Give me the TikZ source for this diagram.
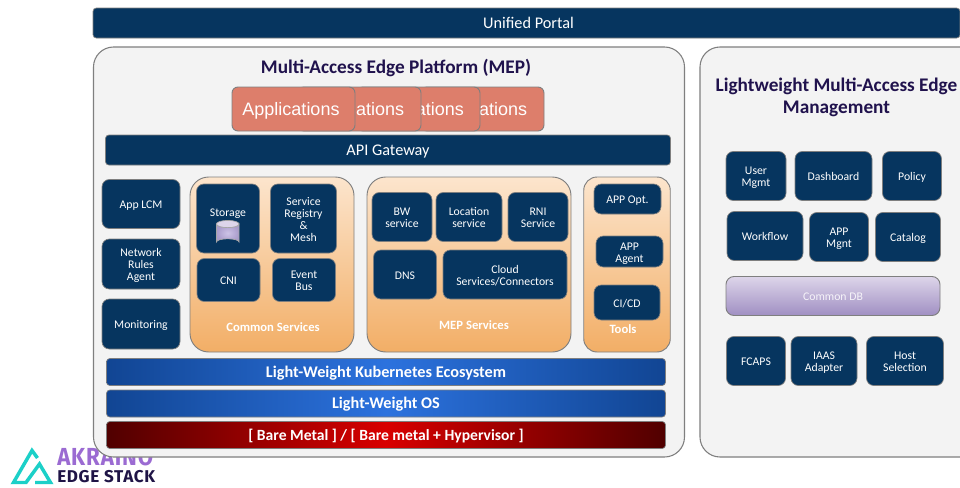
\documentclass[tikz,border=0pt]{standalone}
\usepackage{fontspec}
\setmainfont{Carlito}
\newfontfamily\appfont{Liberation Sans}
\newfontfamily\logofont[LetterSpace=4,BoldFont={Fira Sans Bold}]{Fira Sans Bold}
\definecolor{navy}{HTML}{06355F}
\definecolor{edgegrey}{HTML}{7F7F7F}
\definecolor{panelfill}{HTML}{F3F3F3}
\definecolor{titleink}{HTML}{20124D}
\definecolor{salmon}{HTML}{DD7E6B}
\definecolor{orangetop}{HTML}{FCE5CD}
\definecolor{orangebot}{HTML}{F2AE66}
\definecolor{lilactop}{HTML}{DDD5EA}
\definecolor{lilacbot}{HTML}{A08FC2}
\definecolor{drumin}{HTML}{CDC3E6}
\definecolor{drumout}{HTML}{A99BCB}
\definecolor{blueedge}{HTML}{114593}
\definecolor{bluemid}{HTML}{2C72DE}
\definecolor{rededge}{HTML}{500000}
\definecolor{redmid}{HTML}{D80000}
\definecolor{logoteal}{HTML}{1CD0C8}
\definecolor{logopurple}{HTML}{9B6BD2}
\definecolor{logoink}{HTML}{1F1446}
\newcommand{\txtdrop}{-1pt}
\tikzset{
 x=0.75pt,y=-0.75pt,
 panel/.style={draw=edgegrey,line width=0.8pt,fill=panelfill,rounded corners=15pt,inner sep=0pt},
 navybox/.style={draw=edgegrey,line width=0.5pt,fill=navy,rounded corners=5.5pt,inner sep=0pt,text=white,font=\fontsize{8.8}{9}\selectfont\def\txtdrop{-1.7pt}},
 barbox/.style={navybox,rounded corners=2.5pt,font=\fontsize{12.2}{14}\selectfont},
 orangepanel/.style={draw=edgegrey,line width=0.7pt,top color=orangetop,bottom color=orangebot,rounded corners=14pt,inner sep=0pt},
 toolpanel/.style={orangepanel,rounded corners=10pt},
 appbox/.style={draw=edgegrey,line width=0.7pt,fill=salmon,rounded corners=4.5pt,inner sep=0pt,text=white,font=\appfont\fontsize{13.5}{16}\selectfont\def\txtdrop{-1.8pt}},
 bluebar/.style={draw=edgegrey,line width=0.5pt,left color=blueedge,right color=blueedge,middle color=bluemid,rounded corners=2.5pt,inner sep=0pt,text=white,font=\bfseries\fontsize{12.2}{14}\selectfont},
 redbar/.style={draw=edgegrey,line width=0.5pt,left color=rededge,right color=rededge,middle color=redmid,rounded corners=2.5pt,inner sep=0pt,text=white,font=\bfseries\fontsize{11.7}{14}\selectfont},
 dbbox/.style={draw=edgegrey,line width=0.7pt,top color=lilactop,bottom color=lilacbot,rounded corners=6pt,inner sep=0pt,text=white!90!lilacbot,font=\fontsize{8.8}{10}\selectfont},
 paneltitle/.style={text=titleink,font=\bfseries\fontsize{14.45}{16.5}\selectfont,align=center,inner sep=0pt},
 grouplabel/.style={text=white,font=\bfseries\fontsize{9.5}{11}\selectfont,inner sep=0pt},
 boxlabel/.style={text=white,font=\fontsize{8.8}{9}\selectfont,inner sep=0pt},
 logoA/.style={text=logopurple,font=\logofont\fontsize{18.5}{19}\selectfont,inner sep=0pt,anchor=west},
 logoB/.style={text=logoink,font=\logofont\fontsize{12.8}{14}\selectfont,inner sep=0pt,anchor=west},
 logotri/.style={draw=logoteal,line width=2.6pt,line join=miter},
 drumline/.style={draw=white!65!black,line width=0.5pt},
}
\newcommand{\bx}[7][navybox]{\node[#1,minimum width={#5*0.75pt},minimum height={#6*0.75pt}] (#2) at (#3,#4) {\raisebox{\txtdrop}[\height][\depth]{\begin{tabular}{@{}c@{}}#7\end{tabular}}};}
\begin{document}
\begin{tikzpicture}
\useasboundingbox[fill=white] (0,0) rectangle (960,487);
\clip (0,0) rectangle (960,487);
% logo, overlapped by the platform panel
\draw[logotri] (37.5,458) -- (32,450.5) -- (13.5,482.5) -- (26,482.5) -- (39.5,464) -- (50.5,482.5) -- (35,482.5);
\node[logoA] (logotop) at (57,456.5) {\scalebox{0.9}[1]{AKRAINO}};
\node[logoB] (logobot) at (57,477) {EDGE STACK};
% panels
\bx[barbox]{portal}{526.5}{23}{867}{30}{\hspace*{3pt}Unified Portal}
\bx[panel]{mep}{389}{252}{591}{410}{}
\bx[panel]{lmae}{850}{252}{300}{410}{}
\node[paneltitle] (meptitle) at (396,68) {Multi-Access Edge Platform (MEP)};
\node[paneltitle] (lmaetitle) at (836.5,97) {Lightweight Multi-Access Edge\\Management};
% applications: four overlapping boxes
\bx[appbox]{appd}{482.5}{109}{123}{44}{\hspace*{30.8pt}ations}
\bx[appbox]{appc}{418.5}{109}{123}{44}{\hspace*{32.2pt}ations}
\bx[appbox]{appb}{359.5}{109}{123}{44}{\hspace*{30.8pt}ations}
\bx[appbox]{appa}{293.5}{109}{123}{44}{Applications\hspace*{3.75pt}}
\bx[barbox]{api}{388}{150}{565}{30}{API Gateway}
% left column
\bx{lcm}{141}{204}{78}{49}{App LCM}
\bx{rules}{141}{264}{78}{50}{Network\\Rules\\Agent}
\bx{mon}{141}{324}{78}{50}{Monitoring}
% common services
\bx[orangepanel]{common}{272}{264.5}{164}{175}{}
\bx{storage}{228}{218.5}{63}{69}{}
\node[boxlabel] (storagelabel) at (228,213.7) {Storage};
\path[drumline,inner color=drumin,outer color=drumout]
  (216.5,224) -- (216.5,242) arc[start angle=180,end angle=360,x radius=11.25,y radius=3.2] -- (239,224) arc[start angle=0,end angle=180,x radius=11.25,y radius=3.6] -- cycle;
\draw[drumline,fill=lilactop] (227.75,224) ellipse[x radius=11.25,y radius=3.6];
\bx{registry}{303.5}{218.5}{66}{69}{Service\\Registry\\\&\\Mesh}
\bx{cni}{228.5}{280}{63}{43}{CNI}
\bx{bus}{304}{280}{63}{43}{Event\\Bus}
\node[grouplabel] (commonlabel) at (273,327) {Common Services};
% mep services
\bx[orangepanel]{mepsvc}{469}{264.5}{204}{175}{}
\bx{bw}{402}{217}{60}{49}{BW\\service}
\bx{loc}{469}{217}{66}{49}{Location\\service}
\bx{rni}{538}{217}{60}{49}{RNI\\Service}
\bx{dns}{405}{274.5}{63}{49}{DNS}
\bx{cloud}{505}{274.5}{124}{49}{Cloud\\Services/Connectors}
\node[grouplabel] (meplabel) at (474,325) {MEP Services};
% tools
\bx[toolpanel]{tools}{627}{264.5}{86.5}{175}{}
\bx{appopt}{627.5}{199}{67}{30}{APP Opt.}
\bx{agent}{629.5}{251.5}{67}{31}{APP\\Agent}
\bx{cicd}{627}{302.5}{66}{35}{CI/CD}
\node[grouplabel] (toolslabel) at (623,329) {Tools};
% bars
\bx[bluebar]{k8s}{386}{372}{559}{27}{Light-Weight Kubernetes Ecosystem}
\bx[bluebar]{os}{386}{403.5}{559}{27}{Light-Weight OS}
\bx[redbar]{metal}{386}{435}{559}{27}{[ Bare Metal ] / [ Bare metal + Hypervisor ]}
% right panel
\bx{user}{756}{176}{60}{49}{User\\Mgmt}
\bx{dash}{833.5}{176}{77}{49}{Dashboard}
\bx{policy}{912}{176}{59}{49}{Policy}
\bx{workflow}{765}{236}{76}{49}{Workflow}
\bx{mgnt}{839}{237}{59}{49}{APP\\Mgnt}
\bx{catalog}{908}{237}{65}{49}{Catalog}
\bx[dbbox]{db}{833}{296}{214}{39}{Common DB}
\bx{fcaps}{756}{361}{59}{49}{FCAPS}
\bx{iaas}{824}{361}{66}{49}{IAAS\\Adapter}
\bx{host}{905}{361}{77}{49}{Host\\Selection}
\end{tikzpicture}
\end{document}
